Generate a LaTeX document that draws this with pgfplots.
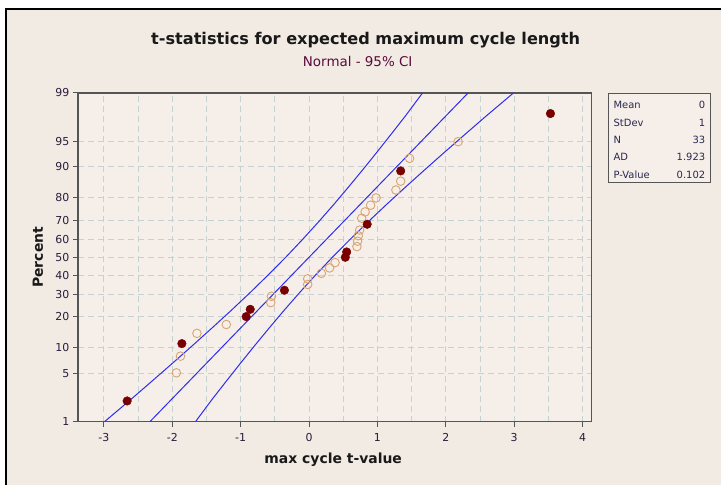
\documentclass[border=0pt]{standalone}
\usepackage{fontspec}
\setmainfont{DejaVu Sans}
\usepackage{pgfplots}
\pgfplotsset{compat=1.18}
\definecolor{outerbg}{RGB}{242,235,228}
\definecolor{innerbg}{RGB}{246,239,233}
\definecolor{gridc}{RGB}{196,210,210}
\definecolor{ptred}{RGB}{120,0,0}
\definecolor{pthollow}{RGB}{216,164,112}
\definecolor{cib}{RGB}{45,45,238}
\definecolor{tickc}{RGB}{45,25,60}
\definecolor{subc}{RGB}{90,10,60}
\definecolor{framec}{RGB}{85,85,85}
\definecolor{legc}{RGB}{40,40,80}
\begin{document}
\begin{tikzpicture}[x=1bp,y=1bp]
\fill[white] (0,0) rectangle (722,485);
\fill[outerbg] (6,0) rectangle (722,476);
\draw[black, line width=1.3bp] (6,0) -- (6,476) -- (722,476);
\node[font=\bfseries\fontsize{16.2}{18}\selectfont, text=black!90] at (366,445) {t-statistics for expected maximum cycle length};
\node[font=\fontsize{13.5}{15}\selectfont, text=subc] at (358,423) {Normal - 95\% CI};
\begin{axis}[
  at={(78bp,63bp)}, anchor=south west,
  width=514bp, height=329bp, scale only axis,
  xmin=-3.38, xmax=4.13,
  ymin=-2.3263, ymax=2.3263,
  xtick={-3,-2,-1,0,1,2,3,4},
  xticklabels={-3,-2,-1,0,1,2,3,4},
  minor xtick={-2.5,-1.5,-0.5,0.5,1.5,2.5,3.5},
  ytick={-2.3263,-1.6449,-1.2816,-0.8416,-0.5244,-0.2533,0,0.2533,0.5244,0.8416,1.2816,1.6449,2.3263},
  yticklabels={1,5,10,20,30,40,50,60,70,80,90,95,99},
  grid=both,
  major grid style={gridc, dash pattern=on 6bp off 4bp, line width=0.9bp},
  minor grid style={gridc, dash pattern=on 6bp off 4bp, line width=0.9bp},
  tick align=outside, major tick length=5bp, minor tick length=0bp,
  xtick pos=bottom, ytick pos=left,
  tick style={color=framec, line width=1bp},
  axis line style={framec, line width=1.6bp},
  axis background/.style={fill=innerbg},
  ticklabel style={font=\fontsize{11}{12}\selectfont, text=tickc},
  xticklabel style={yshift=-3bp},
  xlabel={max cycle t-value}, ylabel={Percent},
  label style={font=\bfseries\fontsize{14}{16}\selectfont, text=black!90},
  xlabel style={at={(axis description cs:0.497,-0.1155)}, anchor=center},
  ylabel style={at={(axis description cs:-0.0778,0.5)}, anchor=center},
]
% fitted line
\addplot[cib, line width=1bp] coordinates {(-2.3263,-2.3263) (2.3263,2.3263)};
% lower CI band (left line)
\addplot[cib, line width=1bp] coordinates {
(-2.99,-2.3263) (-2.591,-2) (-2.293,-1.75) (-1.997,-1.5) (-1.705,-1.25) (-1.418,-1)
(-1.136,-0.75) (-0.862,-0.5) (-0.597,-0.25) (-0.341,0) (-0.097,0.25) (0.138,0.5)
(0.364,0.75) (0.582,1) (0.795,1.25) (1.003,1.5) (1.207,1.75) (1.409,2) (1.66,2.3263)};
% upper CI band (right line)
\addplot[cib, line width=1bp] coordinates {
(-1.66,-2.3263) (-1.409,-2) (-1.207,-1.75) (-1.003,-1.5) (-0.795,-1.25) (-0.582,-1)
(-0.364,-0.75) (-0.138,-0.5) (0.097,-0.25) (0.341,0) (0.597,0.25) (0.862,0.5)
(1.136,0.75) (1.418,1) (1.705,1.25) (1.997,1.5) (2.293,1.75) (2.591,2) (2.99,2.3263)};
% hollow points
\addplot[only marks, mark=o, mark size=4.3bp, mark options={draw=pthollow, line width=0.9bp}] coordinates {
(-1.94,-1.636) (-1.88,-1.400) (-1.64,-1.077) (-1.21,-0.952) (-0.56,-0.642) (-0.55,-0.552)
(-0.02,-0.385) (-0.02,-0.305) (0.18,-0.227) (0.30,-0.151) (0.38,-0.075) (0.70,0.151)
(0.71,0.227) (0.72,0.305) (0.74,0.385) (0.77,0.552) (0.82,0.642) (0.90,0.737)
(0.98,0.840) (1.27,0.952) (1.34,1.077) (1.47,1.400) (2.18,1.636)};
% filled points
\addplot[only marks, mark=*, mark size=4.3bp, mark options={draw=ptred, fill=ptred}] coordinates {
(-2.66,-2.034) (-1.86,-1.222) (-0.92,-0.840) (-0.86,-0.737) (-0.36,-0.467) (0.53,0)
(0.55,0.075) (0.85,0.467) (1.34,1.222) (3.53,2.034)};
\end{axis}
% statistics box
\draw[framec, line width=1.1bp, fill=innerbg] (609,391) rectangle (711,302);
\begin{scope}[every node/.style={font=\fontsize{10}{11}\selectfont, text=legc, inner sep=0pt}]
\node[anchor=west] at (614,380) {Mean};    \node[anchor=east] at (706,380) {0};
\node[anchor=west] at (614,362) {StDev};   \node[anchor=east] at (706,362) {1};
\node[anchor=west] at (614,345) {N};       \node[anchor=east] at (706,345) {33};
\node[anchor=west] at (614,328) {AD};      \node[anchor=east] at (706,328) {1.923};
\node[anchor=west] at (614,310) {P-Value}; \node[anchor=east] at (706,310) {0.102};
\end{scope}
\useasboundingbox (0,0) rectangle (722,485);
\end{tikzpicture}
\end{document}
